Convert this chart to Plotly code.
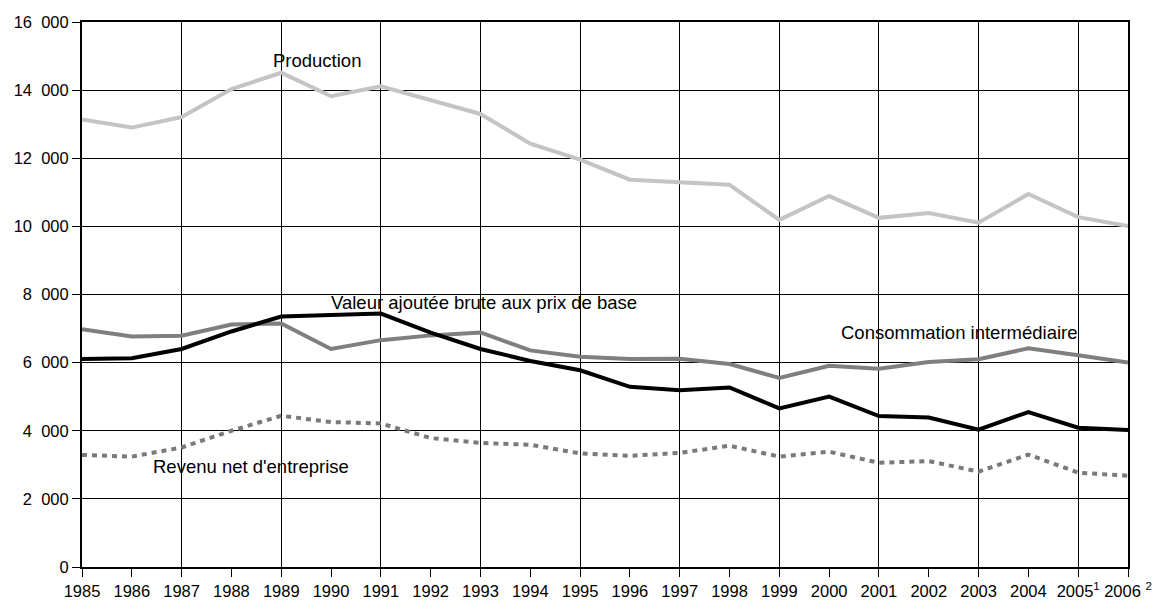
import plotly.graph_objects as go

years = list(range(1985, 2007))
year_labels = [str(y) for y in years[:-2]] + ["2005<sup>1</sup>", "2006 <sup>2</sup>"]

production = [13140, 12900, 13210, 14030, 14510, 13820, 14110, 13700, 13300, 12430,
              11960, 11370, 11300, 11220, 10190, 10890, 10250, 10390, 10110, 10950,
              10270, 10010]
consommation = [6980, 6770, 6790, 7120, 7150, 6400, 6660, 6800, 6885, 6360,
                6170, 6108, 6117, 5960, 5550, 5910, 5820, 6020, 6100, 6420,
                6215, 6000]
valeur = [6110, 6130, 6400, 6915, 7355, 7400, 7440, 6880, 6400, 6050,
          5775, 5290, 5190, 5270, 4655, 5005, 4430, 4390, 4030, 4550,
          4090, 4020]
revenu = [3290, 3240, 3510, 4000, 4440, 4255, 4215, 3785, 3640, 3590,
          3335, 3265, 3350, 3560, 3240, 3385, 3060, 3110, 2800, 3300,
          2770, 2680]

y_ticks = list(range(0, 16001, 2000))
y_tick_labels = ["0", "2\u2007000", "4\u2007000", "6\u2007000", "8\u2007000",
                 "10\u2007000", "12\u2007000", "14\u2007000", "16\u2007000"]
grid_years = [y for y in years if y % 2 == 1]

labels = [
    ("Production", 1988.79, 14865),
    ("Valeur ajoutée brute aux prix de base", 1989.95, 7776),
    ("Consommation intermédiaire", 2000.2, 6874),
    ("Revenu net d'entreprise", 1986.38, 2938),
]

FONT = "Liberation Sans, Arial, sans-serif"
TICK_SIZE = 16.5

fig = go.Figure()
fig.add_trace(go.Scatter(x=years, y=production, mode="lines",
                         line=dict(color="#c4c4c4", width=4), name="Production"))
fig.add_trace(go.Scatter(x=years, y=consommation, mode="lines",
                         line=dict(color="#7f7f7f", width=4), name="Consommation intermédiaire"))
fig.add_trace(go.Scatter(x=years, y=valeur, mode="lines",
                         line=dict(color="#000000", width=4), name="Valeur ajoutée brute aux prix de base"))
fig.add_trace(go.Scatter(x=years, y=revenu, mode="lines",
                         line=dict(color="#7a7a7a", width=4, dash="5px,5px"), name="Revenu net d'entreprise"))

for text, x, y in labels:
    fig.add_annotation(x=x, y=y, xref="x", yref="y", text=text, showarrow=False,
                       xanchor="left", yanchor="middle",
                       font=dict(family=FONT, size=18.5, color="#000"))

fig.update_layout(
    width=1160, height=600,
    margin=dict(l=82, r=32, t=22, b=33, autoexpand=False),
    paper_bgcolor="white", plot_bgcolor="white",
    showlegend=False,
    font=dict(family=FONT, size=TICK_SIZE, color="#000"),
    xaxis=dict(range=[1985, 2006], tickmode="array", tickvals=years, ticktext=year_labels,
               showgrid=False, zeroline=False, ticks="outside", ticklen=8, tickwidth=1,
               tickcolor="#000", showline=True, linecolor="#000", linewidth=2, mirror=True,
               automargin=False, tickangle=0,
               tickfont=dict(family=FONT, size=TICK_SIZE, color="#000")),
    xaxis2=dict(range=[1985, 2006], overlaying="x", tickmode="array", tickvals=grid_years,
                showgrid=True, gridcolor="#000", gridwidth=1, showticklabels=False,
                ticks="", zeroline=False, showline=False, layer="below traces",
                automargin=False),
    yaxis=dict(range=[0, 16000], tickmode="array", tickvals=y_ticks, ticktext=y_tick_labels,
               showgrid=True, gridcolor="#000", gridwidth=1, zeroline=False,
               ticks="outside", ticklen=8, tickwidth=1, tickcolor="#000",
               showline=True, linecolor="#000", linewidth=2, mirror=True,
               automargin=False,
               tickfont=dict(family=FONT, size=TICK_SIZE, color="#000")),
)
fig.add_trace(go.Scatter(x=[years[0]], y=[None], xaxis="x2", showlegend=False, hoverinfo="skip"))

fig.write_html("out.html", config={"displayModeBar": False},
               post_script="document.body.style.margin='0';")
